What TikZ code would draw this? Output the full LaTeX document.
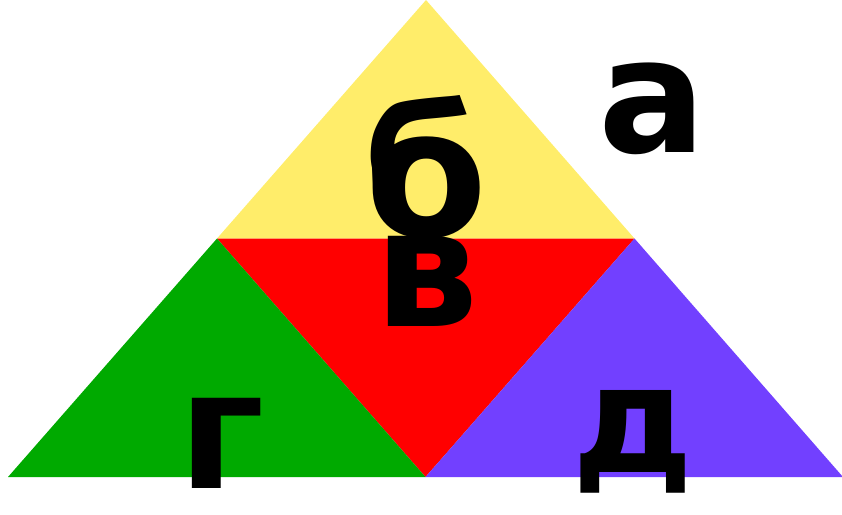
\documentclass[tikz,border=0pt]{standalone}
\usepackage{fontspec}
\setmainfont{DejaVu Sans}
\usetikzlibrary{positioning, calc}
\definecolor{cYellow}{RGB}{255,237,106}
\definecolor{cRed}{RGB}{255,0,0}
\definecolor{cGreen}{RGB}{0,170,0}
\definecolor{cPurple}{RGB}{114,64,255}
\tikzset{
	piece/.style={draw=none},
	% letter label helper
	letter/.style={anchor=base, inner sep=0pt, font=\fontsize{165}{165}\selectfont\bfseries, text=black},
}
\begin{document}
\begin{tikzpicture}[x=1pt, y=-1pt]
	\useasboundingbox (0,0) rectangle (842,514);
	\coordinate (top) at (426,0);
	\coordinate (bl) at (8,477);
	\coordinate (br) at (843,477);
	\coordinate (ml) at ($(top)!0.5!(bl)$);
	\coordinate (mr) at ($(top)!0.5!(br)$);
	\coordinate (mb) at ($(bl)!0.5!(br)$);
	\fill[piece, cYellow] (top) -- (ml) -- (mr) -- cycle;
	\fill[piece, cRed] (ml) -- (mr) -- (mb) -- cycle;
	\fill[piece, cGreen] (ml) -- (bl) -- (mb) -- cycle;
	\fill[piece, cPurple] (mr) -- (mb) -- (br) -- cycle;
	\node[letter, font=\fontsize{160}{160}\selectfont\bfseries] (la) at (652,152) {а};
	\node[letter, font=\fontsize{178}{178}\selectfont\bfseries] (lb) at (426,236) {б};
	\node[letter] (lv) at (427,326) {в};
	\node[letter] (lg) at (222,488) {г};
	\node[letter, font=\fontsize{150}{150}\selectfont\bfseries] (ld) at (633,472) {д};
\end{tikzpicture}
\end{document}
